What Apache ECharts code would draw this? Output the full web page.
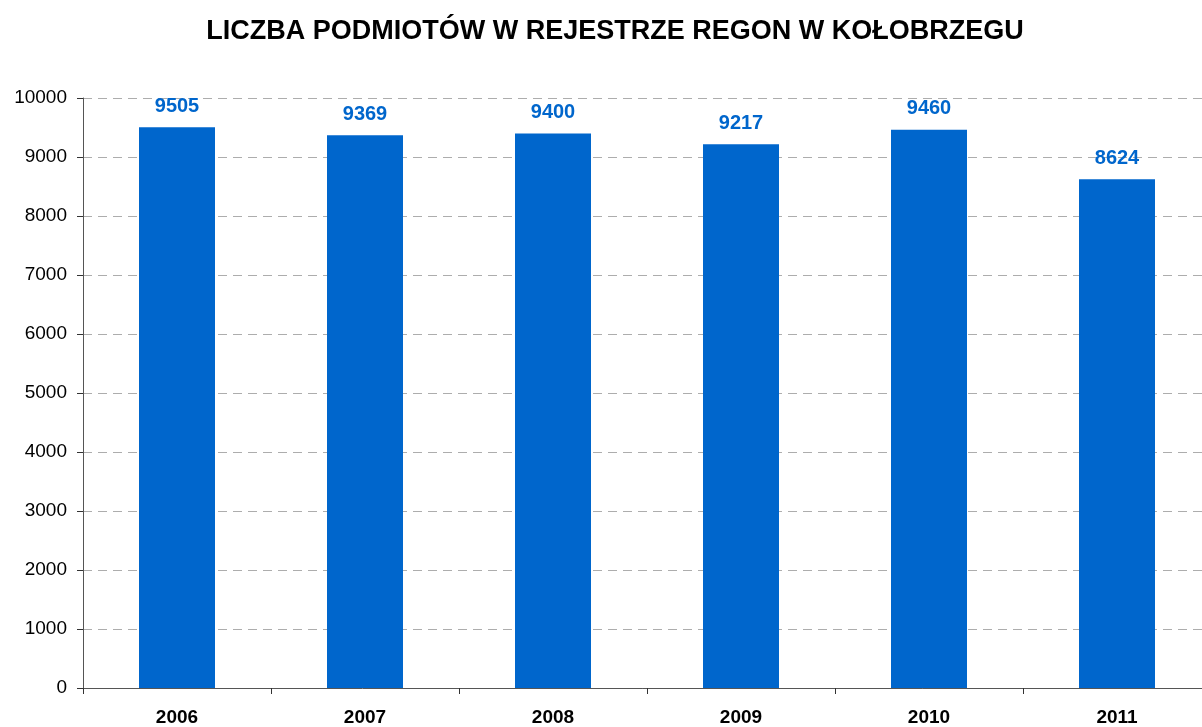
<!DOCTYPE html>
<html>
<head>
<meta charset="utf-8">
<script src="https://cdn.jsdelivr.net/npm/echarts@6/dist/echarts.min.js"></script>
<style>
  html, body { margin: 0; padding: 0; background: #fff; }
  #chart { width: 1202px; height: 727px; }
</style>
</head>
<body>
<div id="chart"></div>
<script>
// lata i liczba podmiotów
let years = ['2006', '2007', '2008', '2009', '2010', '2011'];
let values = [9505, 9369, 9400, 9217, 9460, 8624];
let yTicks = [0, 1000, 2000, 3000, 4000, 5000, 6000, 7000, 8000, 9000, 10000];

let font = 'Liberation Sans, Arial, sans-serif';

let option = {
    animation: false,
    title: {
        text: 'LICZBA PODMIOTÓW W REJESTRZE REGON W KOŁOBRZEGU',
        left: 610,
        textAlign: 'center',
        top: 13,
        textStyle: {
            fontFamily: font,
            fontSize: 27,
            fontWeight: 'bold',
            color: '#000'
        }
    },
    grid: {
        left: 83,
        width: 1128,   // plot runs a bit past the right edge, like the source
        top: 98,
        bottom: 39,
        outerBoundsMode: 'none'
    },
    xAxis: {
        type: 'category',
        data: years,
        axisLine: { lineStyle: { color: '#555', width: 1 } },
        axisTick: { show: true, length: 6, lineStyle: { color: '#333' } },
        axisLabel: {
            margin: 20,
            fontFamily: font,
            fontSize: 19,
            fontWeight: 'bold',
            color: '#000'
        }
    },
    yAxis: {
        type: 'value',
        min: yTicks[0],
        max: yTicks[yTicks.length - 1],
        interval: 1000,
        axisLine: { show: true, lineStyle: { color: '#555', width: 1 } },
        axisTick: { show: true, length: 6, lineStyle: { color: '#333' } },
        axisLabel: {
            margin: 16,
            fontFamily: font,
            fontSize: 19,
            color: '#000',
            formatter: v => String(v)
        },
        splitLine: {
            lineStyle: { color: '#adadad', type: [9, 6], width: 1 }
        }
    },
    series: [
        {
            type: 'bar',
            data: values,
            barWidth: 76,
            itemStyle: { color: '#0066cc' },
            label: {
                show: true,
                position: 'top',
                distance: 11,
                fontFamily: font,
                fontSize: 20,
                fontWeight: 'bold',
                color: '#0066cc'
            }
        }
    ]
};

let myChart = echarts.init(document.getElementById('chart'));
myChart.setOption(option);
</script>
</body>
</html>
